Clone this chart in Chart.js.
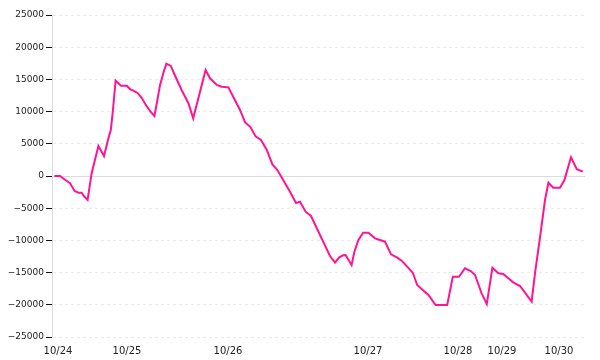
<!DOCTYPE html>
<html>
<head>
<meta charset="utf-8">
<script src="https://cdn.jsdelivr.net/npm/chart.js@4/dist/chart.umd.min.js"></script>
<style>
html,body{margin:0;padding:0;background:#fff;}
canvas{display:block;}
</style>
</head>
<body>
<canvas id="c" width="600" height="360"></canvas>
<script>
// sample positions (index units along the time axis)
const samplePos = [0.1,1.5,2.6,4,5.1,6.1,6.9,7.6,8.4,9.4,11.1,12.5,13.6,14.2,14.7,15.4,16.1,16.75,18.2,19,19.8,20.9,21.9,23,24,25.1,25.7,26.5,27.5,28.1,29.2,30.1,31.9,33.6,34.8,37.9,39,40.7,41.9,43.6,44.8,46.5,47.75,49.1,50.4,51.75,53.2,54.6,55.75,56.75,59,60.5,61.5,62.9,64.25,65.7,67.3,69,70.25,71.3,72.3,72.9,74.4,75.1,76.1,77.3,78.6,80.25,81.5,82.75,84.25,85.7,86.9,88.3,89.7,90.8,91.9,93.6,95.4,98.3,99.7,101.25,102.75,104.2,105.25,106.9,108.2,109.6,111.1,112.3,113.6,114.8,116.5,117.75,119.4,120.25,121.75,122.75,123.6,124.8,126.5,127.6,129.25,130.7,132.2];
const seriesValues = [0,0,-500,-1100,-2300,-2600,-2600,-3200,-3700,400,4660,3100,5850,7140,10000,14800,14400,14000,14000,13500,13250,12900,12150,11000,10100,9300,11300,14100,16350,17450,17100,15800,13350,11300,8960,16460,15170,14130,13870,13770,12300,10250,8350,7600,6150,5600,4040,1800,1000,-50,-2440,-4200,-3990,-5540,-6210,-8120,-10200,-12420,-13460,-12630,-12310,-12270,-13820,-11750,-9940,-8800,-8800,-9680,-9940,-10200,-12160,-12630,-13150,-14080,-15020,-16930,-17550,-18480,-20030,-20030,-15640,-15640,-14330,-14750,-15370,-18220,-19880,-14240,-15110,-15220,-15890,-16510,-17080,-18120,-19520,-15110,-8390,-3730,-1040,-1820,-1820,-620,2900,1040,670];
const dayLabels = ['10/24','10/25','10/26','10/27','10/28','10/29','10/30'];
const dayPos = [1,18.25,43.5,78.5,101,112,126.25];
const yTicks = [-25000,-20000,-15000,-10000,-5000,0,5000,10000,15000,20000,25000];

const points = samplePos.map((x,i)=>({x:x,y:seriesValues[i]}));

new Chart(document.getElementById('c'),{
  type:'line',
  data:{datasets:[{
    data:points,
    borderColor:'#ff1493',
    borderWidth:2,
    pointRadius:0,
    tension:0,
    fill:false
  }]},
  options:{
    responsive:false,
    animation:false,
    layout:{padding:{top:15,right:15,left:0,bottom:0}},
    plugins:{legend:{display:false},tooltip:{enabled:false}},
    scales:{
      x:{
        type:'linear',
        min:-0.5,
        max:132.75,
        grid:{display:false,drawTicks:false},
        border:{display:false},
        afterBuildTicks:(s)=>{s.ticks = dayPos.map(v=>({value:v}));},
        afterFit:(s)=>{s.height=23;},
        ticks:{
          autoSkip:false,
          maxRotation:0,
          padding:8,
          color:'#222',
          font:{family:'DejaVu Sans',size:10},
          callback:(v)=>{const i=dayPos.indexOf(v);return i>=0?dayLabels[i]:'';}
        }
      },
      y:{
        min:-25000,
        max:25000,
        afterBuildTicks:(s)=>{s.ticks = yTicks.map(v=>({value:v}));},
        afterFit:(s)=>{s.width=52;},
        grid:{
          color:(ctx)=>ctx.tick && ctx.tick.value===0 ? '#dcdcdc' : '#ebebeb',
          lineWidth:1,
          tickColor:'#111',
          tickLength:6,
          tickBorderDash:[]
        },
        border:{
          display:true,
          color:'#dcdcdc',
          width:1,
          dash:(ctx)=>ctx.tick && ctx.tick.value===0 ? [] : [3,3]
        },
        ticks:{
          padding:2,
          color:'#222',
          font:{family:'DejaVu Sans',size:9},
          callback:(v)=>String(v).replace('-','\u2212')
        }
      }
    }
  }
});
</script>
</body>
</html>
